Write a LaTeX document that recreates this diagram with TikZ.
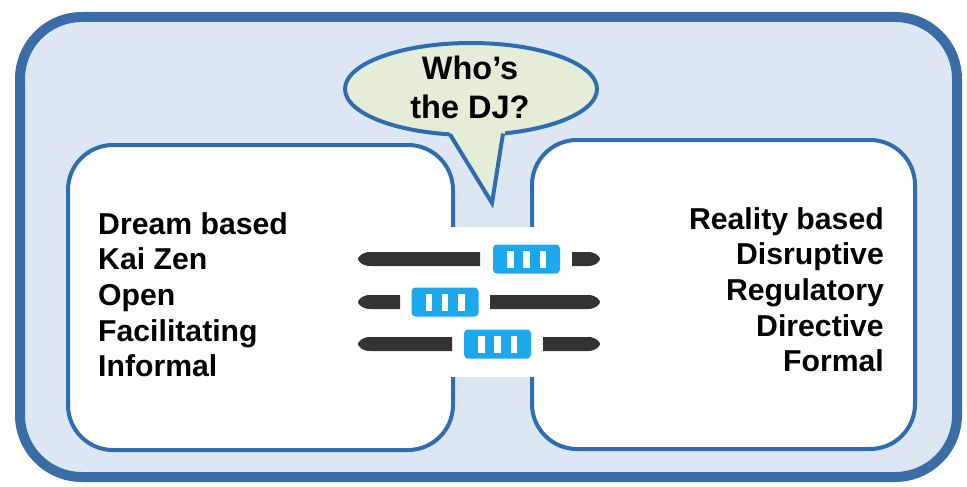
\documentclass[tikz,border=0pt]{standalone}
\usepackage{fontspec}
\setmainfont{Liberation Sans}
\usetikzlibrary{shapes.geometric}
\definecolor{outerB}{HTML}{3A6DA6}
\definecolor{outerF}{HTML}{DCE7F3}
\definecolor{innerB}{HTML}{2F6CB2}
\definecolor{bubF}{HTML}{E3EDD7}
\definecolor{barC}{HTML}{333333}
\definecolor{knobC}{HTML}{1BA8EC}
\tikzset{
  lbl/.style={font=\fontsize{30.2}{35.6}\selectfont\bfseries, inner sep=0pt},
  bublbl/.style={font=\fontsize{32.5}{38}\selectfont\bfseries, inner sep=0pt},
  whitebox/.style={draw=innerB, fill=white, line width=4pt, rounded corners=45pt},
  knob/.pic={
    \fill[knobC, rounded corners=4pt] (-33.5,-14.5) rectangle (33.5,14.5);
    \fill[white] (-19.5,-8.5) rectangle (-13,8.5);
    \fill[white] (-3.3,-8.5) rectangle (3.3,8.5);
    \fill[white] (13,-8.5) rectangle (19.5,8.5);
  }
}
\newcommand\lbar[3]{% outer-left x, inner x, y
  \fill[barC] (#2,#3-7) -- (#1+12,#3-7) .. controls (#1+4,#3-7) and (#1,#3-2) .. (#1,#3)
   .. controls (#1,#3+2) and (#1+4,#3+7) .. (#1+12,#3+7) -- (#2,#3+7) -- cycle;}
\newcommand\rbar[3]{% inner x, outer-right x, y
  \fill[barC] (#1,#3-7) -- (#2-12,#3-7) .. controls (#2-4,#3-7) and (#2,#3-2) .. (#2,#3)
   .. controls (#2,#3+2) and (#2-4,#3+7) .. (#2-12,#3+7) -- (#1,#3+7) -- cycle;}
\begin{document}
\begin{tikzpicture}[x=1pt,y=-1pt]
\useasboundingbox (0,0) rectangle (967,487);
\fill[white] (0,0) rectangle (967,487);
% outer frame
\draw[draw=outerB, fill=outerF, line width=10pt, rounded corners=62pt] (20,17) rectangle (957,477);
% inner boxes
\draw[whitebox] (68,145) rectangle (453,450);
\draw[whitebox] (532,140) rectangle (915,449);
% white middle patch behind sliders
\fill[white] (446,227) rectangle (539,377);
% sliders
\lbar{358}{480}{259}
\rbar{572}{600}{259}
\pic at (526.5,259) {knob};
\lbar{358}{400}{302}
\rbar{490}{600}{302}
\pic at (445,302) {knob};
\lbar{358}{452}{344}
\rbar{543}{600}{344}
\pic at (497.5,344) {knob};
% speech bubble
\node[ellipse, draw=innerB, fill=bubF, line width=4pt, minimum width=252pt, minimum height=92pt, inner sep=0pt] (bub) at (471,89) {};
\fill[bubF] (447,128) -- (492,203) -- (506,127) -- cycle;
\coordinate (tl) at (450,134.4);
\coordinate (tip) at (492,203);
\coordinate (tr) at (503,133.5);
\draw[innerB, line width=4pt, line join=miter] (tl) -- (tip) -- (tr);
\node[bublbl, anchor=base] (who) at (470,80) {Who’s};
\node[bublbl, anchor=base] (dj) at (470,118) {the DJ?};
% left labels
\node[lbl, anchor=base west] (l1) at (98,234) {Dream based};
\node[lbl, anchor=base west] (l2) at (98,269.7) {Kai Zen};
\node[lbl, anchor=base west] (l3) at (98,305.4) {Open};
\node[lbl, anchor=base west] (l4) at (98,341.1) {Facilitating};
\node[lbl, anchor=base west] (l5) at (98,376.8) {Informal};
% right labels
\node[lbl, anchor=base east] (r1) at (884,229) {Reality based};
\node[lbl, anchor=base east] (r2) at (884,264.7) {Disruptive};
\node[lbl, anchor=base east] (r3) at (884,300.4) {Regulatory};
\node[lbl, anchor=base east] (r4) at (884,336.1) {Directive};
\node[lbl, anchor=base east] (r5) at (884,371.8) {Formal};
\end{tikzpicture}
\end{document}
